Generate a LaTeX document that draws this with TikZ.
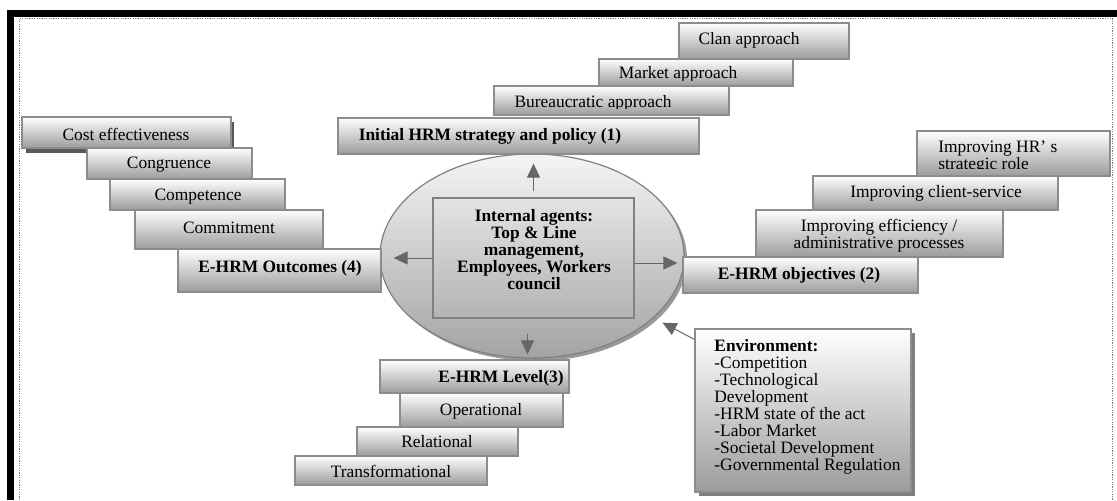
\documentclass[tikz,border=0pt]{standalone}
\usepackage{fontspec}
\setmainfont{Liberation Serif}
\usetikzlibrary{shapes.geometric,arrows.meta,fit}
\begin{document}
\begin{tikzpicture}[x=0.5pt,y=-0.5pt,
  font=\fontsize{8.7}{8.5}\selectfont,
  pbox/.style={draw=gray!90, line width=0.6pt, top color=white, bottom color=gray!78, inner sep=0pt, fit={#1}},
  txt/.style={inner sep=0pt, text=black},
  btxt/.style={txt, font=\fontsize{8.7}{8.5}\selectfont\bfseries},
  arr/.style={draw=black!60, line width=0.5pt, -{Triangle[length=7pt,width=6.5pt]}},
]
\useasboundingbox (0,0) rectangle (1117,500);
% frame
\fill[black] (7,10) rectangle (1117,17);
\fill[black] (7,10) rectangle (14,500);
\draw[gray, dash pattern=on 0.6pt off 0.6pt, line width=0.5pt] (19,500) -- (19,18.5) -- (1112,18.5) -- (1112,500);

% central ellipse
\fill[black!40] (535,259) ellipse [x radius=152, y radius=102];
\node[ellipse, draw=gray, line width=0.6pt, top color=gray!8, bottom color=gray!72,
      minimum width=152pt, minimum height=102pt, inner sep=0pt] (ell) at (532,256) {};
\node[draw=gray, line width=0.6pt, inner sep=0pt, fit={(433,198) (634,318)}] (agents) {};
\node[btxt, align=center] (agentstxt) at (534,250) {Internal agents:\\Top \& Line\\management,\\Employees, Workers\\council};

% left stack
\fill[black!65] (26,122) rectangle (234,153);
\node[pbox={(22,117) (231,148)}] (cost) {};
\node[txt] (costt) at (126,134) {Cost effectiveness};
\node[pbox={(87,148) (252,179)}] (congr) {};
\node[txt] (congrt) at (169,165) {Congruence};
\node[pbox={(110,179) (285,210)}] (compet) {};
\node[txt] (compett) at (198,197) {Competence};
\node[pbox={(135,210) (323,249)}] (commit) {};
\node[txt] (committ) at (229,228) {Commitment};
\node[pbox={(178,249) (381,292)}] (outcomes) {};
\node[btxt] (outcomest) at (280,268) {E-HRM Outcomes (4)};

% top stack
\node[pbox={(679,23) (849,59)}] (clan) {};
\node[txt] (clant) at (749,40) {Clan approach};
\node[pbox={(599,59) (793,86)}] (market) {};
\begin{scope}
\clip (600,60) rectangle (792,80);
\node[txt] (markett) at (678,74) {Market approach};
\end{scope}
\node[pbox={(494,86) (729,115)}] (bureau) {};
\begin{scope}
\clip (495,87) rectangle (728,108);
\node[txt] (bureaut) at (593,103) {Bureaucratic approach};
\end{scope}
\node[pbox={(338,118) (699,154)}] (initial) {};
\node[btxt] (initialt) at (490,136) {Initial HRM strategy and policy (1)};

% right stack
\node[pbox={(917,131) (1110,176)}] (hrrole) {};
\begin{scope}
\clip (918,132) rectangle (1109,168);
\node[txt, align=left, anchor=west] (hrrolet) at (938,157) {Improving HR’ s\\strategic role};
\end{scope}
\node[pbox={(813,176) (1058,210)}] (client) {};
\node[txt] (clientt) at (936,193) {Improving client-service};
\node[pbox={(756,210) (1003,257)}] (effic) {};
\node[txt, align=center] (effict) at (879,236) {Improving efficiency /\\administrative processes};
\node[pbox={(683,257) (918,293)}] (objectives) {};
\node[btxt] (objectivest) at (799,275) {E-HRM objectives (2)};

% bottom stack
\node[pbox={(380,360) (569,393)}] (level) {};
\node[btxt] (levelt) at (501,378) {E-HRM Level(3)};
\node[pbox={(400,393) (563,427)}] (oper) {};
\node[txt] (opert) at (481,411) {Operational};
\node[pbox={(357,427) (518,456)}] (rel) {};
\begin{scope}
\clip (358,428) rectangle (517,447);
\node[txt] (relt) at (437,442) {Relational};
\end{scope}
\node[pbox={(295,456) (487,485)}] (trans) {};
\node[txt] (transt) at (391,471) {Transformational};

% environment
\fill[black!50] (699,333) rectangle (915,496);
\node[pbox={(695,329) (911,492)}] (env) {};
\node[txt, align=left, anchor=west] (envt) at (714,407) {\textbf{Environment:}\\-Competition\\-Technological\\Development\\-HRM state of the act\\-Labor Market\\-Societal Development\\-Governmental Regulation};

% arrows
\draw[arr, shorten <=3pt, shorten >=4.5pt] (agents.north) -- (agents.north |- initial.south);
\draw[arr, shorten >=6pt] (agents.west) -- (agents.west -| outcomes.east);
\draw[arr, shorten >=2.5pt] ([yshift=-2.5pt]agents.east) -- ([yshift=-2.5pt]agents.east -| objectives.west);
\draw[arr, shorten <=7.5pt, shorten >=2.5pt] ([xshift=-3pt]agents.south) -- ([xshift=-3pt]agents.south |- level.north);
\draw[arr, shorten >=5pt] ([yshift=-5.5pt]env.north west) -- (ell.-27);
\end{tikzpicture}
\end{document}
